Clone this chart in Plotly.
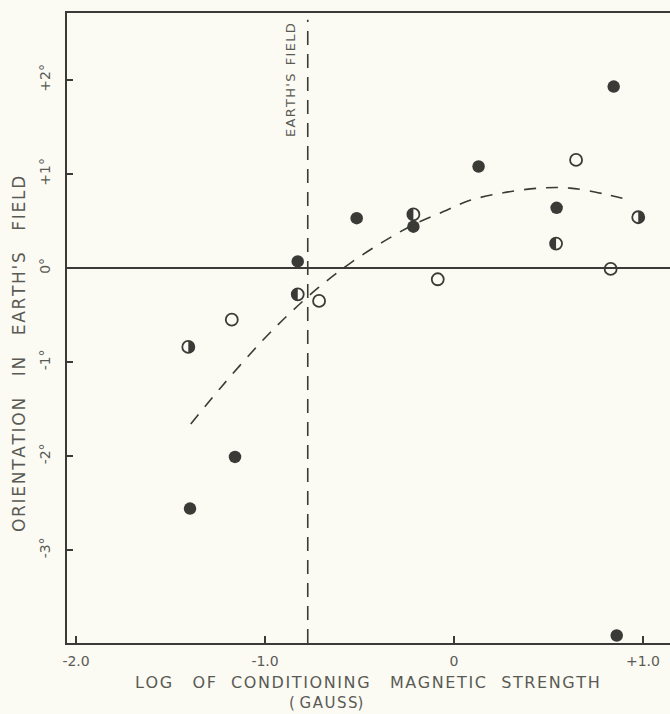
import plotly.graph_objects as go

# ---- data ----
filled_x = [0.845, 0.13, -0.515, 0.543, -0.827, -0.215, -1.159, -1.397, 0.861]
filled_y = [1.93, 1.08, 0.53, 0.64, 0.07, 0.44, -2.01, -2.56, -3.91]

open_x = [0.646, -0.714, -1.176, -0.086, 0.829]
open_y = [1.15, -0.35, -0.55, -0.12, -0.01]

half_x = [-1.406, -0.827, -0.215, 0.540, 0.975]
half_y = [-0.84, -0.28, 0.57, 0.26, 0.54]
half_side = ["right", "left", "left", "left", "right"]   # which half is filled

curve_x = [-1.393, -1.229, -1.017, -0.868, -0.718, -0.55, -0.374, -0.215, -0.056,
           0.085, 0.261, 0.455, 0.614, 0.79, 0.931]
curve_y = [-1.66, -1.26, -0.78, -0.48, -0.21, 0.05, 0.28, 0.46, 0.60,
           0.72, 0.80, 0.85, 0.85, 0.79, 0.72]

earth_field_log = -0.774

x_tick_vals = [-2.0, -1.0, 0.0, 1.0]
x_tick_text = ["-2.0", "-1.0", "0", "+1.0"]
y_tick_vals = [2, 1, 0, -1, -2, -3]
y_tick_text = ["+2°", "+1°", "0°", "-1°", "-2°", "-3°"]

INK = "#3a3a36"
TXT = "#5a5a55"
BG = "#fbfbf4"
FONT = "DejaVu Sans"

HS = "\u200a"   # hair space (letter spacing)
NB = "\u00a0"   # non-breaking space (word spacing)


def spaced(word):
    return HS.join(word)


def phrase(words, gaps):
    out = spaced(words[0])
    for w, g in zip(words[1:], gaps):
        out += NB * g + spaced(w)
    return out


fig = go.Figure()

# Earth's field vertical dashed line
fig.add_trace(go.Scatter(x=[earth_field_log, earth_field_log], y=[-3.99, 2.64],
                         mode="lines", line=dict(color=INK, width=1.6, dash="14px,9px"),
                         hoverinfo="skip", showlegend=False))
# fitted dashed curve
fig.add_trace(go.Scatter(x=curve_x, y=curve_y, mode="lines",
                         line=dict(color=INK, width=1.6, dash="12px,10px", shape="spline"),
                         hoverinfo="skip", showlegend=False))
# filled
fig.add_trace(go.Scatter(x=filled_x, y=filled_y, mode="markers",
                         marker=dict(symbol="circle", size=12.5, color=INK,
                                     line=dict(width=0)), showlegend=False))
# open
fig.add_trace(go.Scatter(x=open_x, y=open_y, mode="markers",
                         marker=dict(symbol="circle-open", size=12, color=INK,
                                     line=dict(width=1.8)), showlegend=False))
# half-filled: outline as open circle markers ...
fig.add_trace(go.Scatter(x=half_x, y=half_y, mode="markers",
                         marker=dict(symbol="circle-open", size=12, color=INK,
                                     line=dict(width=1.8)), showlegend=False))
# ... plus a filled half disk (pixel-sized shape anchored at each data point)
R = 6.0
K = 0.5523 * R
for hx, hy, side in zip(half_x, half_y, half_side):
    s = 1 if side == "right" else -1
    path = (f"M0,{R} C{s*K},{R} {s*R},{K} {s*R},0 "
            f"C{s*R},{-K} {s*K},{-R} 0,{-R} Z")
    fig.add_shape(type="path", path=path, xref="x", yref="y",
                  xsizemode="pixel", ysizemode="pixel", xanchor=hx, yanchor=hy,
                  fillcolor=INK, line=dict(width=0), layer="above")

fig.update_layout(
    width=670, height=714,
    margin=dict(l=67, r=0, t=13, b=71),
    paper_bgcolor=BG, plot_bgcolor=BG,
    font=dict(family=FONT, color=TXT),
    showlegend=False,
    xaxis=dict(range=[-2.048, 1.143], tickvals=x_tick_vals, ticktext=x_tick_text,
               ticks="inside", ticklen=7, tickwidth=1.5, tickcolor=INK,
               showline=True, linecolor=INK, linewidth=2, mirror=True,
               showgrid=False, zeroline=False,
               tickfont=dict(size=14, color=TXT), ticklabelstandoff=4),
    yaxis=dict(range=[-3.99, 2.713], tickvals=y_tick_vals, ticktext=y_tick_text,
               ticks="inside", ticklen=6, tickwidth=1.5, tickcolor=INK,
               showline=True, linecolor=INK, linewidth=2, mirror=False,
               showgrid=False, zeroline=True, zerolinecolor=INK, zerolinewidth=1.6,
               tickangle=-90, tickfont=dict(size=14, color=TXT), ticklabelstandoff=9),
)

PW, PH = 603, 630  # plot area size in px


def px_x(x):
    return (x - 67) / PW


def px_y(y):
    return (643 - y) / PH


fig.add_annotation(text=phrase(["ORIENTATION", "IN", "EARTH'S", "FIELD"], [4, 4, 4]),
                   xref="paper", yref="paper", x=px_x(19), y=px_y(354),
                   xanchor="center", yanchor="middle",
                   textangle=-90, showarrow=False, font=dict(size=17, color=TXT))
fig.add_annotation(text=phrase(["LOG", "OF", "CONDITIONING", "MAGNETIC", "STRENGTH"], [4, 3, 4, 3]),
                   xref="paper", yref="paper", x=px_x(367), y=px_y(682),
                   xanchor="center", yanchor="middle", showarrow=False,
                   font=dict(size=16, color=TXT))
fig.add_annotation(text="(" + NB + spaced("GAUSS") + ")",
                   xref="paper", yref="paper", x=px_x(326), y=px_y(703),
                   xanchor="center", yanchor="middle", showarrow=False,
                   font=dict(size=15, color=TXT))
fig.add_annotation(text=spaced("EARTH'S") + NB * 2 + spaced("FIELD"),
                   x=-0.868, y=2.0, xref="x", yref="y",
                   textangle=-90, showarrow=False, font=dict(size=13, color=TXT))

fig.write_html(
    "out.html",
    config={"displayModeBar": False},
    post_script=("document.body.style.margin='0';"
                 "document.body.style.background='" + BG + "';"
                 "document.documentElement.style.background='" + BG + "';"),
)
